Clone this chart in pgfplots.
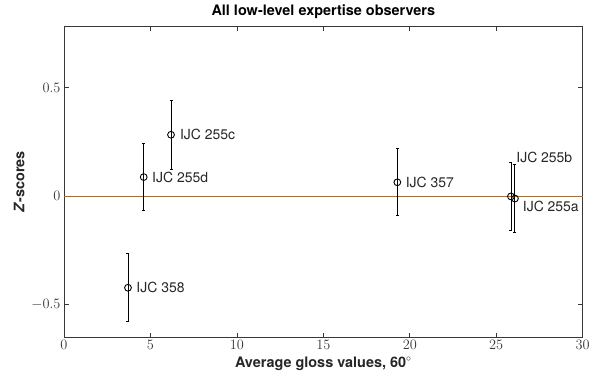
\documentclass[border=0pt]{standalone}
\usepackage{pgfplots}
\pgfplotsset{compat=1.18}
\usepackage{fontspec}
\setmainfont{TeX Gyre Heros}
\definecolor{zline}{rgb}{0.80,0.40,0.0}
\definecolor{axgray}{rgb}{0.22,0.22,0.22}
\begin{document}
\begin{tikzpicture}
\useasboundingbox (-64bp,-43bp) rectangle (536bp,337bp);
\begin{axis}[
  at={(0,0)}, anchor=south west,
  scale only axis, width=518.7bp, height=310.3bp,
  xmin=0, xmax=30, ymin=-0.65, ymax=0.78,
  xtick={0,5,...,30}, ytick={-0.5,0,0.5},
  tick align=inside, major tick length=4.5bp,
  axis line style={axgray, line width=0.8pt},
  every tick/.style={axgray, line width=0.8pt},
  ticklabel style={font=\fontsize{14.5}{16}\selectfont, text=axgray},
  title={\textbf{All low-level expertise observers}},
  title style={font=\fontsize{14.5}{16}\selectfont, at={(0.5,1)}, anchor=south, yshift=-1bp},
  xlabel={\textbf{Average gloss values, 60$^{\circ}$}},
  ylabel={\textbf{\textit{Z}-scores}},
  label style={font=\fontsize{14.5}{16}\selectfont, text=black!85},
  clip=false,
]
\addplot[color=zline, mark=none, line width=0.8pt, forget plot] coordinates {(0,0) (30,0)};
\addplot[black, only marks, mark=o, mark size=3.4bp, mark options={line width=0.9pt},
  error bars/.cd, y dir=both, y explicit,
  error bar style={line width=0.9pt},
  error mark options={rotate=90, mark size=1.5bp, line width=0.9pt}]
  coordinates {
  (3.70,-0.423) +- (0,0.156)
  (4.61,0.087) +- (0,0.155)
  (6.19,0.282) +- (0,0.158)
  (19.28,0.063) +- (0,0.155)
  (25.85,-0.002) +- (0,0.156)
  (26.08,-0.012) +- (0,0.156)
};
\begin{scope}[every node/.style={font=\fontsize{14}{16}\selectfont, anchor=west, text=black!85}]
\node at (axis cs:3.70,-0.423) [xshift=5bp] {IJC 358};
\node at (axis cs:4.61,0.087) [xshift=5bp] {IJC 255d};
\node at (axis cs:6.19,0.282) [xshift=5.5bp] {IJC 255c};
\node at (axis cs:19.28,0.063) [xshift=5bp] {IJC 357};
\node at (axis cs:26.08,0.179) [xshift=-2bp] {IJC 255b};
\node at (axis cs:26.08,-0.049) [xshift=4.5bp] {IJC 255a};
\end{scope}
\end{axis}
\end{tikzpicture}
\end{document}
